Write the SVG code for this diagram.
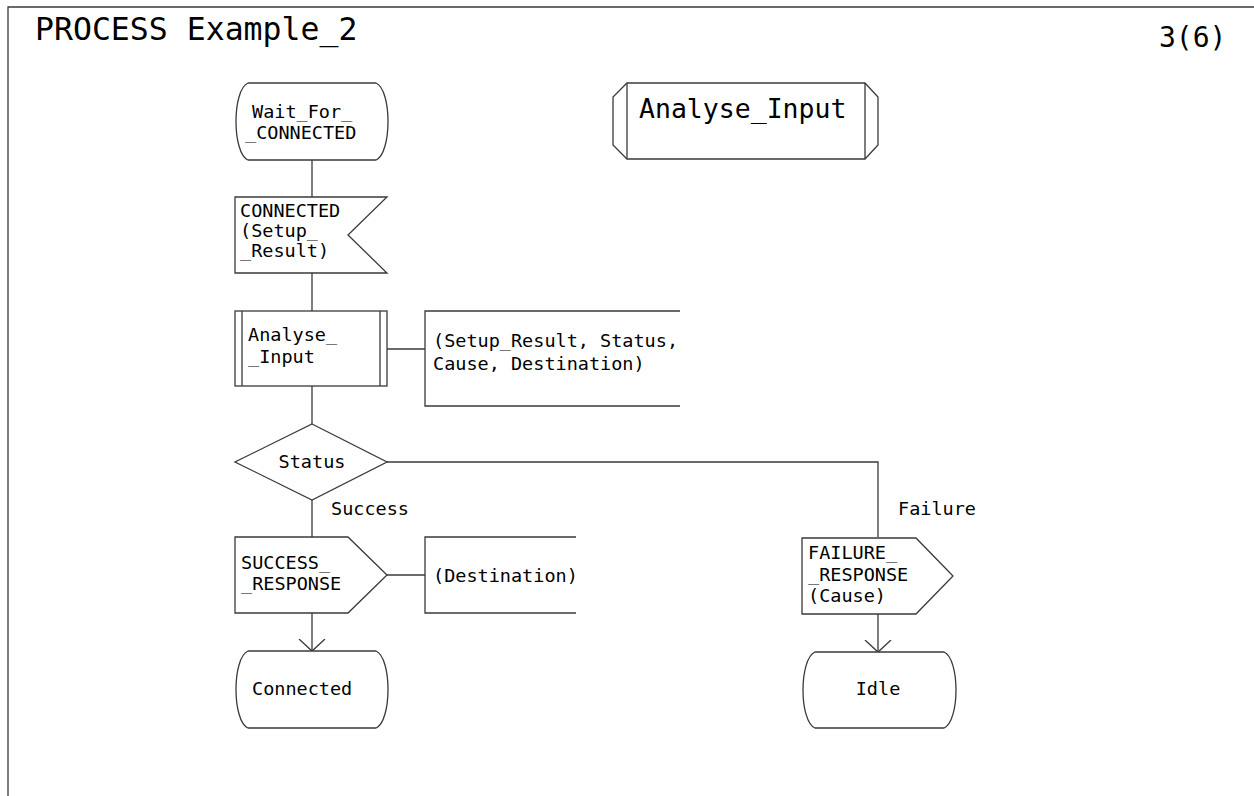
<svg xmlns="http://www.w3.org/2000/svg" width="1254" height="796" viewBox="0 0 1254 796">
  <defs>
    <style>
      .sh { fill: #ffffff; stroke: #3a3a3a; stroke-width: 1.3; }
      .ln { fill: none; stroke: #3a3a3a; stroke-width: 1.3; }
      .t { font-family: "DejaVu Sans Mono", "Liberation Mono", monospace; font-size: 18.5px; fill: #000000; }
      .big { font-family: "DejaVu Sans Mono", "Liberation Mono", monospace; fill: #000000; }
    </style>
    <marker id="open" viewBox="0 0 13 28" refX="12" refY="14" markerWidth="13" markerHeight="28" markerUnits="userSpaceOnUse" orient="auto">
      <path d="M0,1 L12,14 L0,27" fill="none" stroke="#3a3a3a" stroke-width="1.3"/>
    </marker>
  </defs>
  <rect width="1254" height="796" fill="#ffffff"/>

  <!-- page frame -->
  <g id="frame">
    <path class="ln" d="M8,796 L8,7 L1254,7"/>
    <text class="big" x="35" y="40" font-size="31.5">PROCESS Example_2</text>
    <text class="big" x="1159" y="47" font-size="28">3(6)</text>
  </g>

  <!-- connectors -->
  <g id="connectors">
    <path class="ln" d="M312,160 L312,197"/>
    <path class="ln" d="M312,273 L312,311"/>
    <path class="ln" d="M387,349 L425,349"/>
    <path class="ln" d="M312,386 L312,424"/>
    <path class="ln" d="M312,500 L312,537"/>
    <path class="ln" d="M387,462 L878,462 L878,537"/>
    <path class="ln" d="M387,575 L425,575"/>
    <path class="ln" d="M312,613 L312,651" marker-end="url(#open)"/>
    <path class="ln" d="M878,614 L878,652" marker-end="url(#open)"/>
    <text class="t" x="331" y="515">Success</text>
    <text class="t" x="898" y="515">Failure</text>
  </g>

  <!-- procedure reference -->
  <g id="analyse_input_ref">
    <path class="sh" d="M627,83 L865,83 L878,97 L878,145 L865,159 L627,159 L613,145 L613,97 Z"/>
    <path class="ln" d="M627,83 L627,159 M865,83 L865,159"/>
    <text class="big" x="639" y="118" font-size="26.5">Analyse_Input</text>
  </g>

  <!-- start state -->
  <g id="wait_for_connected">
    <path class="sh" d="M248,83 L376,83 C392,90 392,153 376,160 L248,160 C232,153 232,90 248,83 Z"/>
    <text class="t" x="252" y="118">Wait_For_</text>
    <text class="t" x="245" y="139">_CONNECTED</text>
  </g>

  <!-- input signal -->
  <g id="connected_input">
    <path class="sh" d="M235,197 L387,197 L348,235 L387,273 L235,273 Z"/>
    <text class="t" x="240" y="217">CONNECTED</text>
    <text class="t" x="240" y="237">(Setup_</text>
    <text class="t" x="240" y="257">_Result)</text>
  </g>

  <!-- procedure call -->
  <g id="analyse_call">
    <rect class="sh" x="235" y="311" width="152" height="75"/>
    <path class="ln" d="M242,311 L242,386 M380,311 L380,386"/>
    <text class="t" x="248" y="341">Analyse_</text>
    <text class="t" x="248" y="363">_Input</text>
  </g>

  <!-- call parameters -->
  <g id="call_params">
    <path class="ln" d="M680,311 L425,311 L425,406 L680,406"/>
    <text class="t" x="433" y="347">(Setup_Result, Status,</text>
    <text class="t" x="433" y="370">Cause, Destination)</text>
  </g>

  <!-- decision -->
  <g id="status_decision">
    <path class="sh" d="M312,424 L387,462 L312,500 L235,462 Z"/>
    <text class="t" x="312" y="468" text-anchor="middle">Status</text>
  </g>

  <!-- success output -->
  <g id="success_output">
    <path class="sh" d="M235,537 L348,537 L387,575 L348,613 L235,613 Z"/>
    <text class="t" x="241" y="569">SUCCESS_</text>
    <text class="t" x="241" y="590">_RESPONSE</text>
  </g>

  <g id="success_params">
    <path class="ln" d="M576,537 L425,537 L425,613 L576,613"/>
    <text class="t" x="433" y="582">(Destination)</text>
  </g>

  <!-- failure output -->
  <g id="failure_output">
    <path class="sh" d="M802,538 L916,538 L953,576 L916,614 L802,614 Z"/>
    <text class="t" x="808" y="559">FAILURE_</text>
    <text class="t" x="808" y="581">_RESPONSE</text>
    <text class="t" x="808" y="602">(Cause)</text>
  </g>

  <!-- next states -->
  <g id="connected_state">
    <path class="sh" d="M248,651 L376,651 C392,658 392,721 376,728 L248,728 C232,721 232,658 248,651 Z"/>
    <text class="t" x="252" y="695">Connected</text>
  </g>

  <g id="idle_state">
    <path class="sh" d="M815,652 L944,652 C960,659 960,721 944,728 L815,728 C799,721 799,659 815,652 Z"/>
    <text class="t" x="878" y="695" text-anchor="middle">Idle</text>
  </g>
</svg>
